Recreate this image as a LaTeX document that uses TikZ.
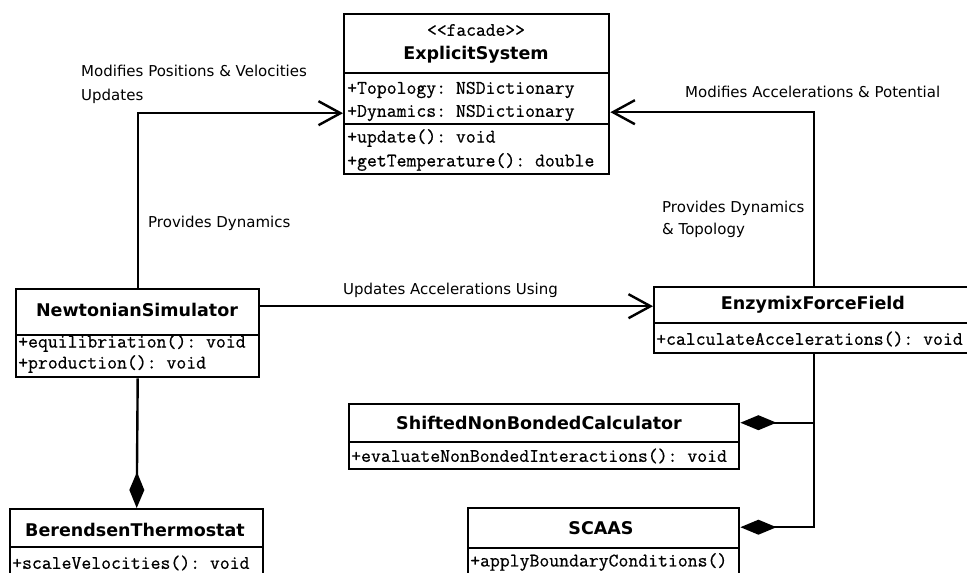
\documentclass[tikz,border=0pt]{standalone}
\usepackage{fontspec}
\setmainfont{DejaVu Sans}
\setmonofont[FakeBold=0.6]{Latin Modern Mono}
\usetikzlibrary{arrows.meta}

\tikzset{
  classbox/.style={draw, line width=2.4pt, anchor=north west, inner sep=0pt},
  classname/.style={font=\fontsize{17.5}{20}\selectfont\bfseries, inner sep=0pt},
  stereo/.style={font=\fontsize{19}{22}\selectfont\ttfamily, inner sep=0pt},
  member/.style={font=\fontsize{19.2}{22}\selectfont\ttfamily, anchor=west, inner sep=0pt},
  linklabel/.style={font=\fontsize{15}{18}\selectfont, anchor=west, inner sep=0pt},
  divider/.style={line width=2.4pt},
  assoc/.style={line width=2.4pt, -{Straight Barb[length=22pt,width=24pt,line width=2.4pt]}},
  compose/.style={line width=2.4pt, {Diamond[length=36pt,width=15pt]}-},
}

\begin{document}
\begin{tikzpicture}[x=1pt,y=-1pt]

    \useasboundingbox (0,0) rectangle (967,573);

    %% Classes

    % ExplicitSystem
    \node[classbox, minimum width=265pt, minimum height=160pt] (sys) at (343,13) {};
    \draw[divider] ([yshift=-60pt]sys.north west) -- ([yshift=-60pt]sys.north east);
    \draw[divider] ([yshift=-111pt]sys.north west) -- ([yshift=-111pt]sys.north east);
    \node[stereo] (facade) at (476,30) {<{}<facade>{}>};
    \node[classname] (systitle) at (476,55) {ExplicitSystem};
    \node[member] (topo) at (347,90) {+Topology: NSDictionary};
    \node[member] (dyn) at (347,113) {+Dynamics: NSDictionary};
    \node[member] (upd) at (347,138) {+update(): void};
    \node[member] (temp) at (347,162) {+getTemperature(): double};

    % NewtonianSimulator
    \node[classbox, minimum width=243pt, minimum height=88pt] (newton) at (15,288) {};
    \draw[divider] ([yshift=-47pt]newton.north west) -- ([yshift=-47pt]newton.north east);
    \node[classname] (newtontitle) at (137,310) {NewtonianSimulator};
    \node[member] (equil) at (18,343) {+equilibriation(): void};
    \node[member] (prod) at (18,364) {+production(): void};

    % EnzymixForceField
    \node[classbox, minimum width=320pt, minimum height=66pt] (enzymix) at (653,286) {};
    \draw[divider] ([yshift=-37pt]enzymix.north west) -- ([yshift=-37pt]enzymix.north east);
    \node[classname] (enzymixtitle) at (813,305) {EnzymixForceField};
    \node[member] (calc) at (656,339) {+calculateAccelerations(): void};

    % ShiftedNonBondedCalculator
    \node[classbox, minimum width=390pt, minimum height=65pt] (shifted) at (348,403) {};
    \draw[divider] ([yshift=-39pt]shifted.north west) -- ([yshift=-39pt]shifted.north east);
    \node[classname] (shiftedtitle) at (539,423) {ShiftedNonBondedCalculator};
    \node[member] (evalnb) at (351,456) {+evaluateNonBondedInteractions(): void};

    % SCAAS
    \node[classbox, minimum width=271pt, minimum height=80pt] (scaas) at (467,507) {};
    \draw[divider] ([yshift=-41pt]scaas.north west) -- ([yshift=-41pt]scaas.north east);
    \node[classname] (scaastitle) at (601,528) {SCAAS};
    \node[member] (boundary) at (470,562) {+applyBoundaryConditions()};

    % BerendsenThermostat
    \node[classbox, minimum width=253pt, minimum height=80pt] (berendsen) at (9,508) {};
    \draw[divider] ([yshift=-39pt]berendsen.north west) -- ([yshift=-39pt]berendsen.north east);
    \node[classname] (berendsentitle) at (135,530) {BerendsenThermostat};
    \node[member] (scalevel) at (12,563) {+scaleVelocities(): void};

    %% Associations
    \draw[assoc] (newton.north) |- ([yshift=-19pt]sys.west);
    \draw[assoc] (enzymix.north) |- ([yshift=-18pt]sys.east);
    \coordinate (accel) at ([yshift=27pt]newton.east);
    \draw[assoc] (accel) -- (accel -| enzymix.west);

    % Compositions
    \draw[compose] (berendsen.north) -- (newton.south);
    \draw[compose] ([yshift=14pt]shifted.east) -| (enzymix.south);
    \draw[compose] ([yshift=21pt]scaas.east) -| (enzymix.south);

    %% Labels
    \node[linklabel] (modpos) at (81,71) {Modifies Positions \& Velocities};
    \node[linklabel] (updates) at (81,96) {Updates};
    \node[linklabel] (provdyn) at (148,223) {Provides Dynamics};
    \node[linklabel] (modacc) at (685,92) {Modifies Accelerations \& Potential};
    \node[linklabel] (provdyntop) at (662,208) {Provides Dynamics};
    \node[linklabel] (andtop) at (662,230) {\& Topology};
    \node[linklabel] (useacc) at (343,290) {Updates Accelerations Using};

\end{tikzpicture}
\end{document}
